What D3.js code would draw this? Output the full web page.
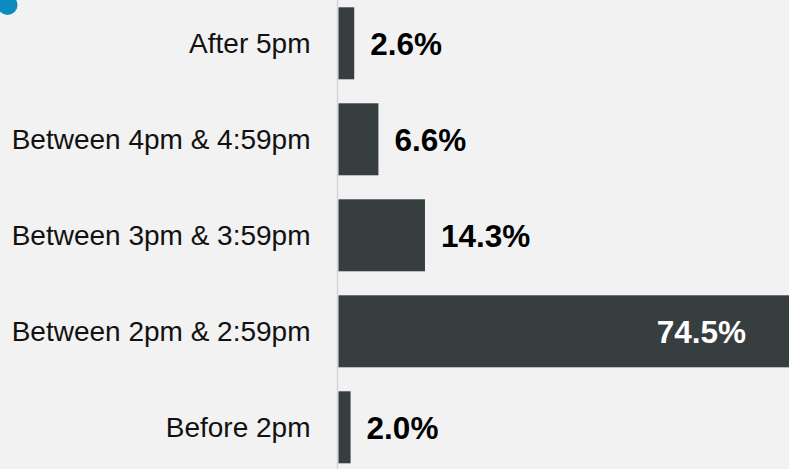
<!DOCTYPE html>
<html>
<head>
<meta charset="utf-8">
<script src="https://cdn.jsdelivr.net/npm/d3@7"></script>
<style>
  html, body { margin: 0; padding: 0; background: #f2f2f2; }
  svg { display: block; }
</style>
</head>
<body>
<svg id="chart"></svg>
<script>
// data, top to bottom
var categories = ["After 5pm", "Between 4pm & 4:59pm", "Between 3pm & 3:59pm", "Between 2pm & 2:59pm", "Before 2pm"];
var shares = [2.6, 6.6, 14.3, 74.5, 2.0];
var valueLabels = ["2.6%", "6.6%", "14.3%", "74.5%", "2.0%"];

var width = 789;
var height = 469;
var axisX = 337.5;

var rows = categories.map((c, i) => ({ cat: c, value: shares[i], label: valueLabels[i] }));

var svg = d3.select('#chart')
            .attr('width', width)
            .attr('height', height)
            .style('background', '#f2f2f2');

var xScale = d3.scaleLinear()
               .domain([0, 74.5])
               .range([axisX + 1, width]);

var yScale = d3.scaleBand()
               .domain(categories)
               .range([-4.7, 475.3])
               .paddingInner(0.25)
               .paddingOuter(0.125);

// little blue marker in the corner
svg.append('circle')
   .attr('cx', 7.5)
   .attr('cy', 5)
   .attr('r', 10)
   .attr('fill', '#0a8cc0');

// vertical baseline
svg.append('line')
   .attr('x1', axisX).attr('x2', axisX)
   .attr('y1', 0).attr('y2', height)
   .attr('stroke', '#d6d6d6')
   .attr('stroke-width', 1.5);

svg.selectAll('rect.bar')
   .data(rows)
   .enter()
   .append('rect')
   .attr('class', 'bar')
   .attr('x', xScale(0))
   .attr('y', d => yScale(d.cat))
   .attr('width', d => xScale(d.value) - xScale(0))
   .attr('height', yScale.bandwidth())
   .attr('fill', '#373e40');

// category labels
svg.selectAll('text.cat')
   .data(rows)
   .enter()
   .append('text')
   .attr('class', 'cat')
   .attr('x', axisX - 27)
   .attr('y', d => yScale(d.cat) + yScale.bandwidth() / 2)
   .attr('dy', '0.36em')
   .attr('text-anchor', 'end')
   .style('font-family', '"Liberation Sans", Arial, Helvetica, sans-serif')
   .style('font-size', '28px')
   .attr('fill', '#111')
   .text(d => d.cat);

// value labels, inside the bar when it is long
svg.selectAll('text.val')
   .data(rows)
   .enter()
   .append('text')
   .attr('class', 'val')
   .attr('x', d => d.value > 50 ? xScale(d.value) - 43 : xScale(d.value) + 16)
   .attr('y', d => yScale(d.cat) + yScale.bandwidth() / 2)
   .attr('dy', '0.36em')
   .attr('text-anchor', d => d.value > 50 ? 'end' : 'start')
   .style('font-family', '"Liberation Sans", Arial, Helvetica, sans-serif')
   .style('font-size', '31.5px')
   .style('font-weight', 'bold')
   .attr('fill', d => d.value > 50 ? '#ffffff' : '#000000')
   .text(d => d.label);
</script>
</body>
</html>
